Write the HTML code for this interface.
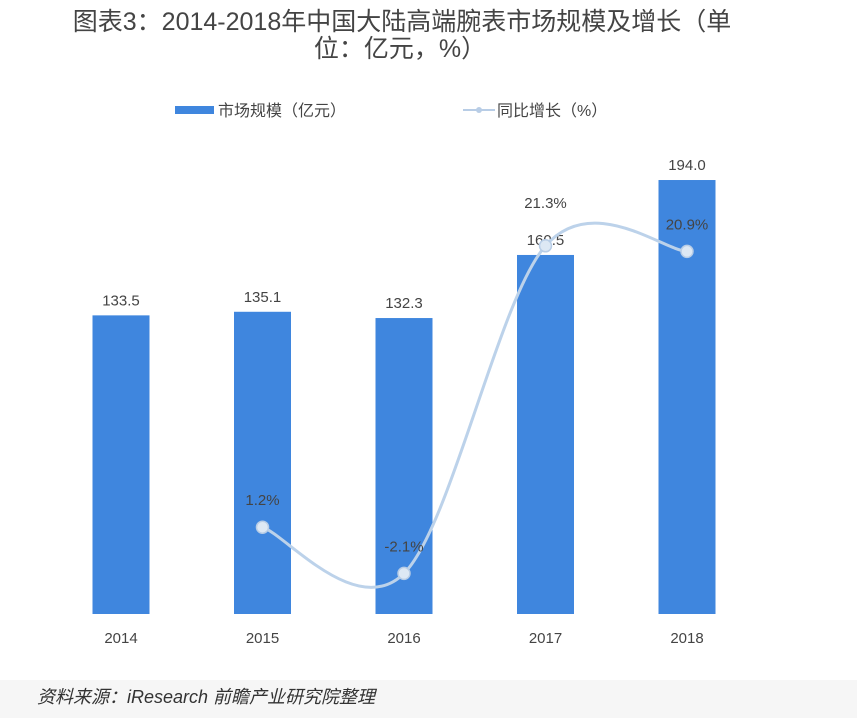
<!DOCTYPE html>
<html><head><meta charset="utf-8"><style>
body{margin:0;background:#fff;width:857px;height:718px;overflow:hidden;font-family:"Liberation Sans","Noto Sans CJK SC",sans-serif;}
svg text{font-family:"Liberation Sans","Noto Sans CJK SC",sans-serif;}
</style></head><body>
<svg id="c" width="857" height="718">
<rect x="0" y="680" width="857" height="38" fill="#f6f6f6"/>
<text x="402" y="30" font-size="25" fill="#444" text-anchor="middle">图表3：2014-2018年中国大陆高端腕表市场规模及增长（单</text>
<text x="400" y="57" font-size="25" fill="#444" text-anchor="middle">位：亿元，%）</text>
<rect x="175" y="106" width="39" height="8" fill="#3f86de"/>
<text x="218" y="116" font-size="16" fill="#444">市场规模（亿元）</text>
<line x1="463" y1="110" x2="495" y2="110" stroke="#b8cde6" stroke-width="2"/>
<circle cx="479" cy="110" r="3" fill="#b8cde6"/>
<text x="497" y="116" font-size="16" fill="#444">同比增长（%）</text>
<text x="37" y="703" font-size="18" font-style="italic" fill="#333">资料来源：iResearch 前瞻产业研究院整理</text>
</svg>
<script>
const years=["2014","2015","2016","2017","2018"];
const marketSize=[133.5,135.1,132.3,160.5,194.0];
const growthYears=["2015","2016","2017","2018"];
const growthRate=[1.2,-2.1,21.3,20.9];
const svg=document.getElementById('c');
const NS="http://www.w3.org/2000/svg";
const xc=i=>121+i*141.5;
const yBar=v=>614-v*2.237;
const yLine=v=>544-v*14;
function mk(t,a){const e=document.createElementNS(NS,t);for(const k in a)e.setAttribute(k,a[k]);svg.appendChild(e);return e;}
years.forEach((y,i)=>{
 const b=mk('rect',{x:xc(i)-28.5,y:yBar(marketSize[i]),width:57,height:614-yBar(marketSize[i]),fill:'#3f86de'});
 
 
 const t=mk('text',{x:xc(i),y:yBar(marketSize[i])-10,'font-size':15,fill:'#444','text-anchor':'middle'});
 t.textContent=marketSize[i].toFixed(1);
 
 
 const l=mk('text',{x:xc(i),y:643,'font-size':15,fill:'#444','text-anchor':'middle'});
 l.textContent=y;
 
 
});
const pts=growthYears.map((y,j)=>[xc(years.indexOf(y)),yLine(growthRate[j])]);
let d='M'+pts[0][0]+','+pts[0][1];
for(let i=0;i<pts.length-1;i++){
 const p0=pts[Math.max(i-1,0)],p1=pts[i],p2=pts[i+1],p3=pts[Math.min(i+2,pts.length-1)];
 const c1=[p1[0]+(p2[0]-p0[0])/6,p1[1]+(p2[1]-p0[1])/6];
 const c2=[p2[0]-(p3[0]-p1[0])/6,p2[1]-(p3[1]-p1[1])/6];
 d+=` C${c1[0]},${c1[1]} ${c2[0]},${c2[1]} ${p2[0]},${p2[1]}`;
}
const path=mk('path',{d:d,fill:'none',stroke:'#bcd2ea','stroke-width':3});


pts.forEach((p,j)=>{
 const c=mk('circle',{cx:p[0],cy:p[1],r:6,fill:'#dde8f4',stroke:'#b8cde6','stroke-width':1.5});
 
 
 let ly=p[1]-22;
 const bi=years.indexOf(growthYears[j]);
 const by=yBar(marketSize[bi])-10;
 if(Math.abs(ly-by)<25) ly=by-37;
 const t=mk('text',{x:p[0],y:ly,'font-size':15,fill:'#444','text-anchor':'middle'});
 t.textContent=growthRate[j].toFixed(1)+'%';
 
 
});
</script>
</body></html>
